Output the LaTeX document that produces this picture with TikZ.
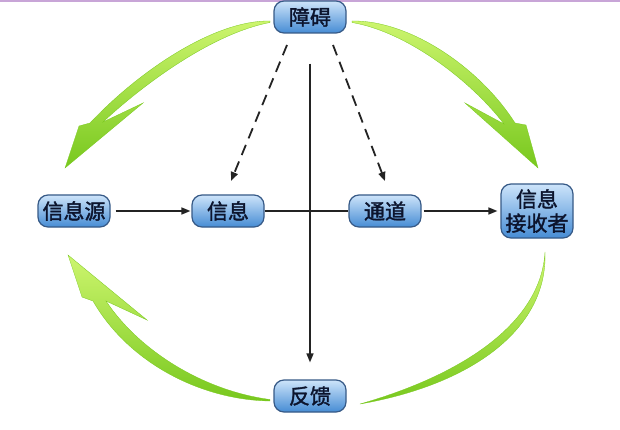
\documentclass[tikz,border=0pt]{standalone}
\usepackage{fontspec}
\newfontfamily\cjk[FakeBold=1.6]{Noto Sans CJK SC}
\usetikzlibrary{arrows.meta}
\definecolor{boxtop}{RGB}{205,228,250}
\definecolor{boxbot}{RGB}{70,140,212}
\definecolor{boxline}{RGB}{55,90,135}
\definecolor{boxtext}{RGB}{12,20,45}
\definecolor{leaflight}{RGB}{205,245,110}
\definecolor{leafdark}{RGB}{120,200,30}
\definecolor{topline}{RGB}{200,165,215}
\tikzset{
  box/.style={draw=boxline, line width=1.2pt, rounded corners=10pt,
    top color=boxtop, bottom color=boxbot, text=boxtext,
    minimum width=72pt, minimum height=32pt, inner sep=1pt,
    font=\cjk\fontsize{21}{23}\selectfont, align=center},
  link/.style={line width=1.5pt, draw={rgb,255:red,35;green,35;blue,35}},
  tip/.style={-{Triangle[length=9pt,width=7pt]}},
  dashlink/.style={link, line width=1.8pt, dash pattern=on 11pt off 7pt, tip},
  leaf/.style={top color=leaflight, bottom color=leafdark, draw=leafdark, line width=0.3pt}
}
\begin{document}
\begin{tikzpicture}[x=1pt,y=-1pt]
\useasboundingbox (0,0) rectangle (620,430);
\fill[white] (0,0) rectangle (620,430);
\draw[topline, line width=2pt] (0,1) -- (620,1);

% green arrows
\path[leaf] (270,21) .. controls (215,20) and (140,70) .. (90,123) -- (79,126) -- (65,168) -- (143,103) -- (103,122) .. controls (146,82) and (214,33) .. (270,22.5) -- cycle;
\path[leaf] (352,21) .. controls (410,20) and (480,68) .. (515,123) -- (526,125) -- (538,168) -- (465,103) -- (504,124) .. controls (472,82) and (408,32) .. (352,22.5) -- cycle;
\path[leaf] (270,401) .. controls (200,400) and (128,362) .. (93,301) -- (82,297) -- (68,255) -- (147,320) -- (106,301) .. controls (140,352) and (205,391) .. (270,399.5) -- cycle;
\path[leaf] (545,252) .. controls (548,330) and (470,385) .. (360,404) .. controls (465,374) and (541,322) .. (545,252) -- cycle;

% nodes
\node[box] (zhangai) at (310,17) {障碍};
\node[box] (xinxiyuan) at (74,211) {信息源};
\node[box] (xinxi) at (228,211) {信息};
\node[box] (tongdao) at (385,211) {通道};
\node[box, minimum height=54pt, font=\cjk\fontsize{21}{24}\selectfont] (jieshou) at (537,211) {信息\\接收者};
\node[box] (fankui) at (310,396) {反馈};

% connectors
\coordinate (dl0) at (287,45);
\coordinate (dl1) at (231,181);
\coordinate (dr0) at (333,45);
\coordinate (dr1) at (385,181);
\draw[dashlink] (dl0) -- (dl1);
\draw[dashlink] (dr0) -- (dr1);
\draw[link, tip, shorten <=30pt, shorten >=17pt] (zhangai.south) -- (fankui.north);
\draw[link, tip, shorten <=5pt, shorten >=1pt] (xinxiyuan.east) -- (xinxi.west);
\draw[link] (xinxi.east) -- (tongdao.west);
\draw[link, tip, shorten <=2pt, shorten >=3pt] (tongdao.east) -- (jieshou.west);
\end{tikzpicture}
\end{document}
